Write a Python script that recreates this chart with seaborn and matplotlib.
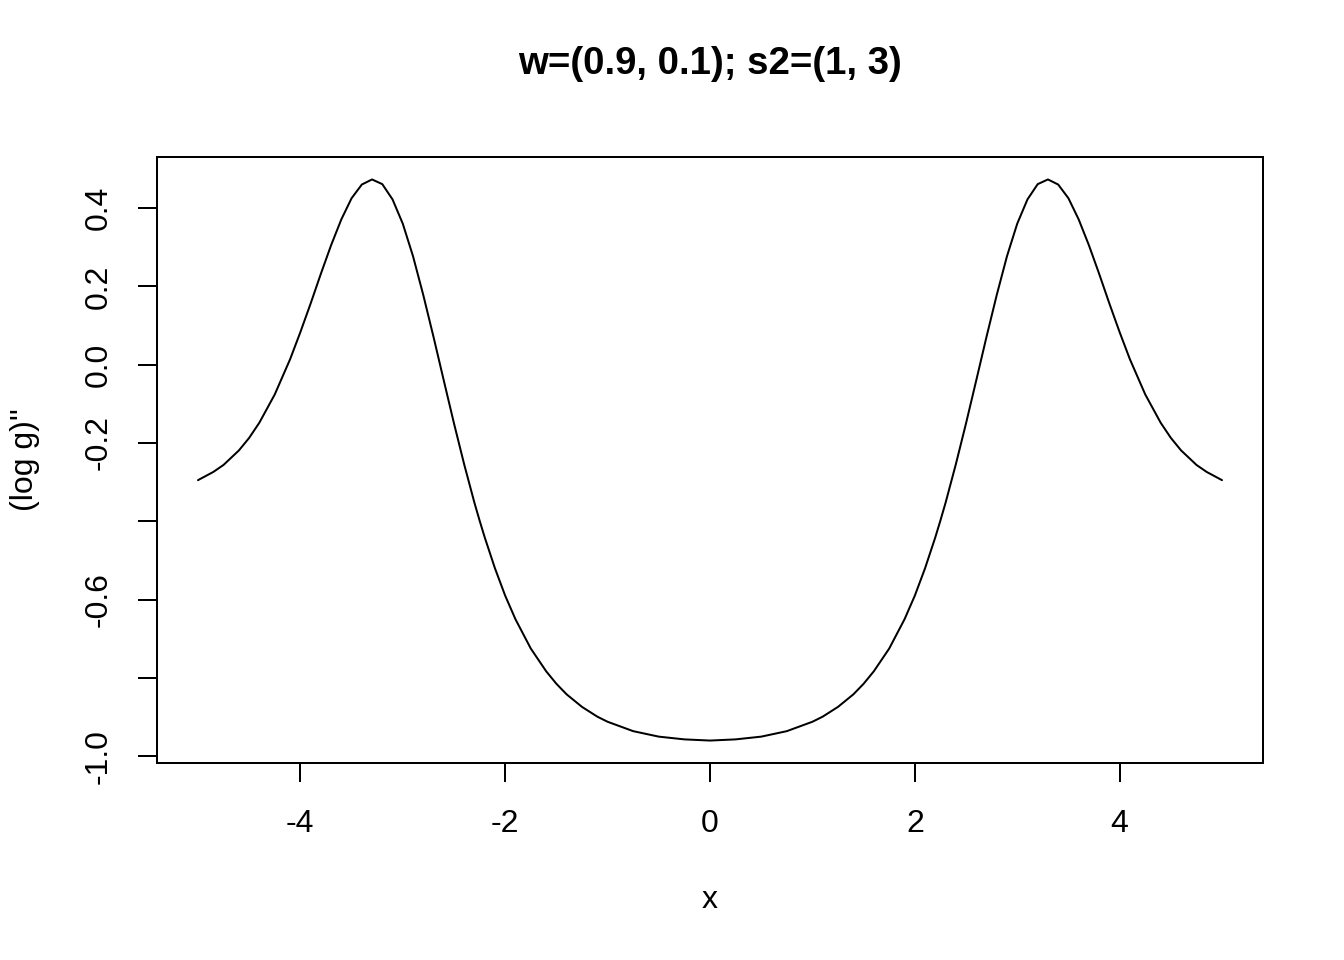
import matplotlib
matplotlib.use("Agg")
import matplotlib.pyplot as plt
import seaborn as sns
import pandas as pd

# ---------------- DATA ----------------
x_vals = [-5.0, -4.85, -4.75, -4.6, -4.5, -4.4, -4.25, -4.1, -4.0, -3.9, -3.8,
          -3.7, -3.6, -3.5, -3.4, -3.3, -3.2, -3.1, -3.0, -2.9, -2.8, -2.7,
          -2.6, -2.5, -2.4, -2.3, -2.25, -2.2, -2.1, -2.0, -1.9, -1.75, -1.6,
          -1.5, -1.4, -1.25, -1.1, -1.0, -0.75, -0.5, -0.25,
          0.0,
          0.25, 0.5, 0.75, 1.0, 1.1, 1.25, 1.4, 1.5, 1.6, 1.75, 1.9, 2.0, 2.1,
          2.2, 2.25, 2.3, 2.4, 2.5, 2.6, 2.7, 2.8, 2.9, 3.0, 3.1, 3.2, 3.3,
          3.4, 3.5, 3.6, 3.7, 3.8, 3.9, 4.0, 4.1, 4.25, 4.4, 4.5, 4.6, 4.75,
          4.85, 5.0]
y_vals = [-0.295, -0.274, -0.256, -0.219, -0.187, -0.148, -0.076, 0.014, 0.083,
          0.156, 0.232, 0.305, 0.371, 0.425, 0.460, 0.473, 0.461, 0.422, 0.360,
          0.277, 0.178, 0.071, -0.040, -0.150, -0.255, -0.353, -0.398, -0.441,
          -0.520, -0.590, -0.650, -0.725, -0.783, -0.815, -0.842, -0.874,
          -0.899, -0.912, -0.936, -0.950, -0.957,
          -0.960,
          -0.957, -0.950, -0.936, -0.912, -0.899, -0.874, -0.842, -0.815,
          -0.783, -0.725, -0.650, -0.590, -0.520, -0.441, -0.398, -0.353,
          -0.255, -0.150, -0.040, 0.071, 0.178, 0.277, 0.360, 0.422, 0.461,
          0.473, 0.460, 0.425, 0.371, 0.305, 0.232, 0.156, 0.083, 0.014,
          -0.076, -0.148, -0.187, -0.219, -0.256, -0.274, -0.295]

x_ticks = [-4, -2, 0, 2, 4]
y_ticks = [-1.0, -0.8, -0.6, -0.4, -0.2, 0.0, 0.2, 0.4]
y_ticklabels = ["-1.0", "", "-0.6", "", "-0.2", "0.0", "0.2", "0.4"]

title = "w=(0.9, 0.1); s2=(1, 3)"

df = pd.DataFrame({"x": x_vals, "y": y_vals})

# ---------------- STYLE ----------------
sns.set_style("white")
plt.rcParams["font.family"] = ["Liberation Sans", "DejaVu Sans"]

fig = plt.figure(figsize=(7, 5), dpi=192)
ax = fig.add_axes([157 / 1344, 1 - 763 / 960, 1106 / 1344, 606 / 960])

sns.lineplot(data=df, x="x", y="y", color="black", linewidth=0.75, ax=ax)

# R-style 4% padding
xr = max(x_vals) - min(x_vals)
yr = max(y_vals) - min(y_vals)
ax.set_xlim(min(x_vals) - 0.04 * xr, max(x_vals) + 0.04 * xr)
ax.set_ylim(min(y_vals) - 0.04 * yr, max(y_vals) + 0.04 * yr)

ax.set_xticks(x_ticks)
ax.set_xticklabels([str(t) for t in x_ticks])
ax.set_yticks(y_ticks)
ax.set_yticklabels(y_ticklabels, rotation=90, va="center")

ax.tick_params(axis="both", direction="out", length=7.2, width=0.75,
               color="black", labelsize=12, labelcolor="black",
               bottom=True, left=True)
ax.tick_params(axis="x", pad=10)
ax.tick_params(axis="y", pad=9)

for sp in ax.spines.values():
    sp.set_visible(True)
    sp.set_color("black")
    sp.set_linewidth(0.75)

ax.set_xlabel("x", fontsize=12, color="black")
ax.xaxis.label.set_va("center")
ax.xaxis.set_label_coords(0.5, (763 - 900) / 606)

ax.set_ylabel("(log g)''", fontsize=12, color="black")
ax.yaxis.label.set_va("center")
ax.yaxis.set_label_coords((25 - 157) / 1106, 0.5)

ax.set_title(title, fontsize=14.4, fontweight="bold", color="black",
             y=1 + 77 / 606, va="center")

plt.savefig("out.png", dpi=192)
plt.close()
